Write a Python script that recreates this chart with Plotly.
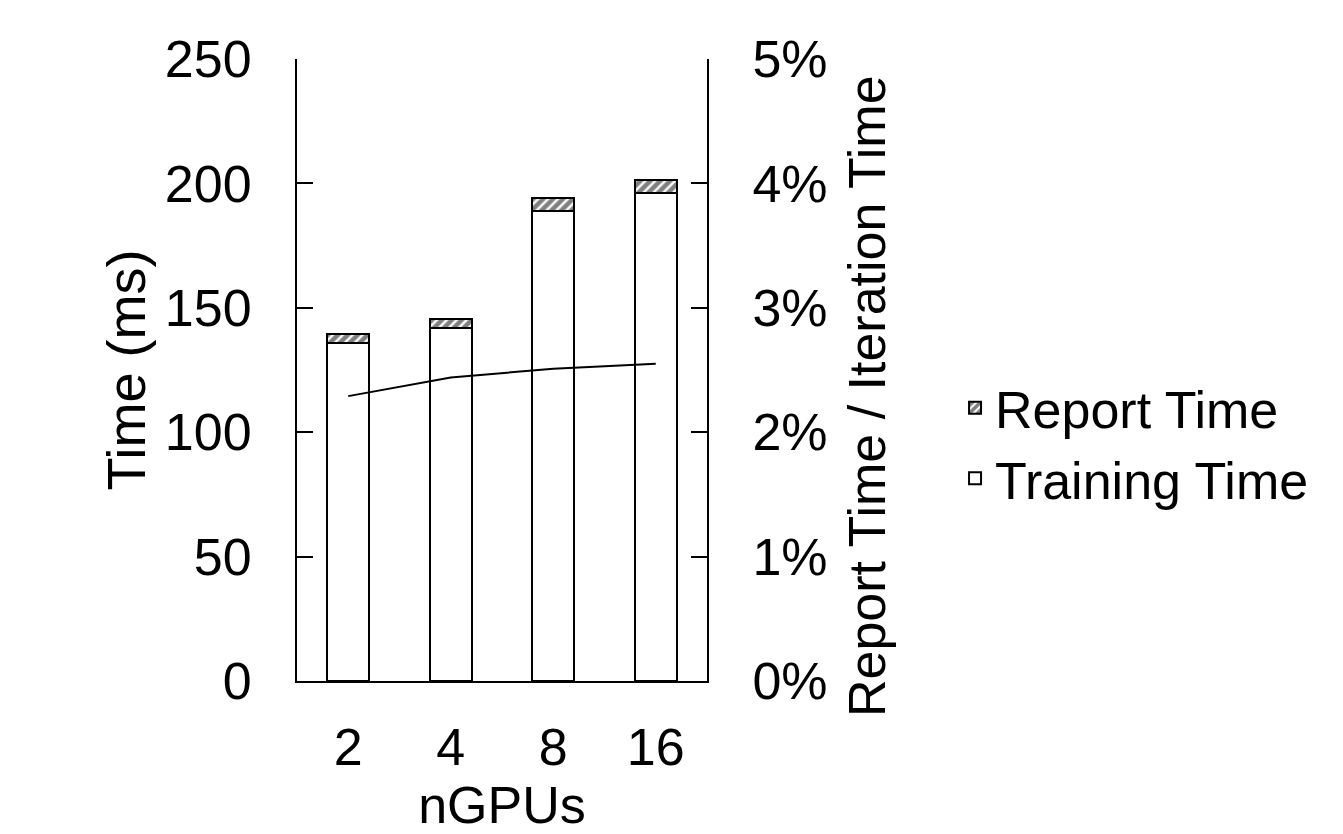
import plotly.graph_objects as go

categories = ["2", "4", "8", "16"]
training_time = [136.0, 142.0, 189.0, 196.0]
report_time = [3.5, 3.6, 5.0, 5.2]
report_ratio = [0.0229, 0.0244, 0.0251, 0.0255]

FONT = "Liberation Sans, Arial, sans-serif"
FS = 52

fig = go.Figure()
fig.add_trace(go.Bar(
    x=categories, y=training_time, name="Training Time",
    marker=dict(color="white", line=dict(color="black", width=2)),
    width=0.41,
))
fig.add_trace(go.Bar(
    x=categories, y=report_time, name="Report Time",
    marker=dict(color="white", line=dict(color="black", width=2),
                pattern=dict(shape="/", fgcolor="black", bgcolor="white",
                             size=7, solidity=0.65)),
    width=0.41,
))
fig.add_trace(go.Scatter(
    x=categories, y=report_ratio, yaxis="y2", mode="lines",
    line=dict(color="black", width=2), showlegend=False,
))

fig.update_layout(
    width=1335, height=826,
    margin=dict(l=289, r=636, t=51, b=153),
    paper_bgcolor="white", plot_bgcolor="white",
    barmode="stack",
    font=dict(family=FONT, size=FS, color="black"),
    showlegend=True,
    legend=dict(x=1.605, y=0.382, xanchor="left", yanchor="middle",
                traceorder="reversed", font=dict(size=FS),
                bgcolor="rgba(0,0,0,0)"),
    xaxis=dict(
        showline=True, linecolor="black", linewidth=2,
        ticks="", showgrid=False, automargin=False,
        title=dict(text="nGPUs", standoff=1, font=dict(size=FS)),
        ticklabelstandoff=20,
    ),
    yaxis=dict(
        range=[0, 250], dtick=50, showline=True, linecolor="black",
        linewidth=2, ticks="inside", ticklen=16, tickcolor="black",
        tickwidth=2, showgrid=False, zeroline=False, automargin=False,
        title=dict(text="Time (ms)", standoff=2, font=dict(size=54)),
        ticklabelstandoff=33,
    ),
    yaxis2=dict(
        range=[0, 0.05], dtick=0.01, tickformat=".0%", overlaying="y",
        side="right", showline=True, linecolor="black", linewidth=2,
        ticks="inside", ticklen=16, tickcolor="black", tickwidth=2,
        showgrid=False, zeroline=False, automargin=False,
        ticklabelstandoff=33,
    ),
    annotations=[dict(
        text="Report Time / Iteration Time", textangle=-90,
        xref="paper", yref="paper", x=1.39, y=0.458,
        xanchor="center", yanchor="middle", showarrow=False,
        font=dict(size=FS),
    )],
)

fig.write_html("out.html")
